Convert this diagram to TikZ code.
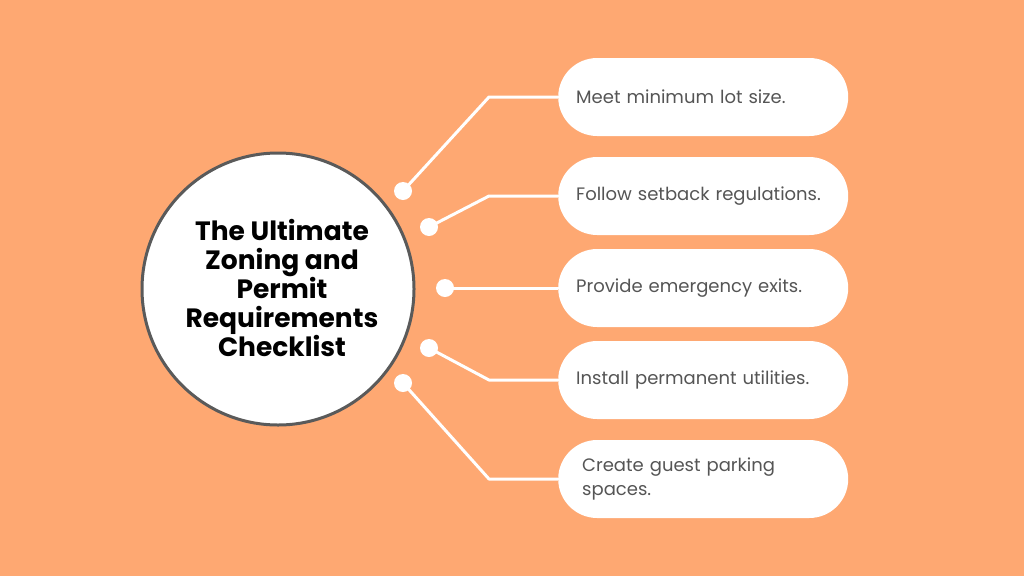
\documentclass[tikz,border=0pt]{standalone}
\usepackage{fontspec}
\setmainfont{Poppins}
\definecolor{bgorange}{HTML}{FEA872}
\definecolor{ringgray}{HTML}{5A5A5A}
\definecolor{itemgray}{HTML}{555555}
\begin{document}
\begin{tikzpicture}[x=1pt,y=1pt,
  itembox/.style={draw=none,fill=white,rounded corners=39pt,minimum width=290pt,minimum height=78pt,
    inner xsep=18pt,inner ysep=0pt,text width=254pt,align=left,text=itemgray,
    font=\fontsize{18}{24}\selectfont,anchor=west},
  dotnode/.style={circle,fill=white,draw=none,minimum size=18pt,inner sep=0pt},
  link/.style={draw=white,line width=3pt,line join=round}]
\fill[bgorange] (0,0) rectangle (1024,-576);
\useasboundingbox (0,0) rectangle (1024,-576);
% central circle
\node[circle,fill=white,draw=ringgray,line width=3pt,minimum size=272pt,inner sep=0pt] (hub) at (278,-289) {};
\node[align=center,font=\fontsize{26.5}{29}\bfseries\selectfont,text=black,inner sep=0pt] (title) at (282,-288)
  {The Ultimate\\Zoning and\\Permit\\Requirements\\Checklist};
% item boxes
\node[itembox] (b1) at (558,-97) {Meet minimum lot size.};
\node[itembox] (b2) at (558,-196) {Follow setback regulations.};
\node[itembox] (b3) at (558,-288) {Provide emergency exits.};
\node[itembox] (b4) at (558,-380) {Install permanent utilities.};
\node[itembox] (b5) at (558,-479) {\hspace*{6pt}Create guest parking\\\hspace*{6pt}spaces.};
% dots
\node[dotnode] (d1) at (403,-191) {};
\node[dotnode] (d2) at (429,-227) {};
\node[dotnode] (d3) at (445,-288) {};
\node[dotnode] (d4) at (429,-348) {};
\node[dotnode] (d5) at (403,-383) {};
% elbows
\coordinate (e1) at (489,-97);
\coordinate (e2) at (489,-196);
\coordinate (e4) at (489,-380);
\coordinate (e5) at (489,-479);
% connectors
\draw[link] (d1.center) -- (e1) -- (b1.west);
\draw[link] (d2.center) -- (e2) -- (b2.west);
\draw[link] (d3.center) -- (b3.west);
\draw[link] (d4.center) -- (e4) -- (b4.west);
\draw[link] (d5.center) -- (e5) -- (b5.west);
\end{tikzpicture}
\end{document}
